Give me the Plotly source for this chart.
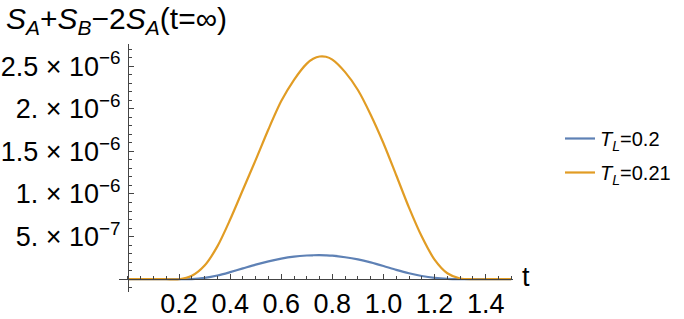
import plotly.graph_objects as go

# data (values in units of 1e-6)
t = [0.00, 0.05, 0.10, 0.15, 0.20, 0.25, 0.30, 0.35, 0.40, 0.45, 0.50,
     0.55, 0.60, 0.65, 0.70, 0.725, 0.75, 0.775, 0.80, 0.85, 0.90, 0.95, 1.00,
     1.05, 1.10, 1.15, 1.20, 1.25, 1.30, 1.35, 1.40, 1.45, 1.50]
s_tl020 = [0, 0, 0, 0, 0, 0.001, 0.015, 0.043, 0.083, 0.127, 0.171,
           0.210, 0.242, 0.265, 0.278, 0.281, 0.282, 0.280, 0.276, 0.258, 0.232, 0.197, 0.155,
           0.110, 0.070, 0.038, 0.016, 0.004, 0, 0, 0, 0, 0]
s_tl021 = [0, 0, 0, 0, 0, 0.04, 0.16, 0.385, 0.70, 1.05, 1.40,
           1.76, 2.09, 2.34, 2.53, 2.586, 2.613, 2.61, 2.577, 2.43, 2.22, 1.93, 1.595,
           1.22, 0.84, 0.50, 0.23, 0.07, 0.008, 0, 0, 0, 0]
series_names = ["<i>T</i><sub><i>L</i></sub>=0.2", "<i>T</i><sub><i>L</i></sub>=0.21"]
x_ticks = [0.2, 0.4, 0.6, 0.8, 1.0, 1.2, 1.4]
x_tick_text = ["0.2", "0.4", "0.6", "0.8", "1.0", "1.2", "1.4"]
y_ticks = [0.5e-6, 1.0e-6, 1.5e-6, 2.0e-6, 2.5e-6]
y_tick_text = ["5. × 10<sup>−7</sup>", "1. × 10<sup>−6</sup>",
               "1.5 × 10<sup>−6</sup>", "2. × 10<sup>−6</sup>",
               "2.5 × 10<sup>−6</sup>"]

W, H = 684, 319
xr = [-0.035, 1.507]
yr = [-0.15e-6, 2.76e-6]
xdom = [119 / W, 513 / W]
ydom = [(H - 292) / H, (H - 44) / H]
xpos_y0 = ydom[0] + (0 - yr[0]) / (yr[1] - yr[0]) * (ydom[1] - ydom[0])
ypos_x0 = xdom[0] + (0 - xr[0]) / (xr[1] - xr[0]) * (xdom[1] - xdom[0])

font = "Liberation Sans, Arial, sans-serif"
blue = "#5E81B5"
orange = "#E19C24"

fig = go.Figure()
for i, (vals, name, col) in enumerate([(s_tl020, series_names[0], blue), (s_tl021, series_names[1], orange)]):
    fig.add_trace(go.Scatter(x=t, y=[v * 1e-6 for v in vals], mode="lines", name=name,
                             legendgroup=f"g{i}",
                             line=dict(color=col, width=2.2, shape="spline", smoothing=0.8)))

axis_col = "#444444"
fig.update_layout(
    width=W, height=H, margin=dict(l=0, r=0, t=0, b=0),
    paper_bgcolor="white", plot_bgcolor="white",
    font=dict(family=font, color="black"),
    showlegend=True,
    legend=dict(x=560 / W, y=(H - 119) / H, xanchor="left", yanchor="top",
                font=dict(size=20, family=font), bgcolor="rgba(0,0,0,0)",
                itemwidth=30, tracegroupgap=5),
    xaxis=dict(domain=xdom, range=xr, anchor="free", position=xpos_y0,
               showgrid=False, zeroline=False, showline=True, linecolor=axis_col, linewidth=1,
               ticks="inside", ticklen=5, tickcolor=axis_col, tickwidth=1,
               tickvals=x_ticks, ticktext=x_tick_text, tickfont=dict(size=27, family=font),
               minor=dict(ticks="inside", dtick=0.05, tick0=0, ticklen=3, tickcolor=axis_col, showgrid=False)),
    yaxis=dict(domain=ydom, range=yr, anchor="free", position=ypos_x0,
               showgrid=False, zeroline=False, showline=True, linecolor=axis_col, linewidth=1,
               ticks="inside", ticklen=5, tickcolor=axis_col, tickwidth=1,
               tickvals=y_ticks, ticktext=y_tick_text, tickfont=dict(size=27, family=font),
               ticklabelstandoff=2,
               minor=dict(ticks="inside", dtick=0.1e-6, tick0=0, ticklen=3, tickcolor=axis_col, showgrid=False)),
)

fig.add_annotation(text="<i>S</i><sub><i>A</i></sub>+<i>S</i><sub><i>B</i></sub>−2<i>S</i><sub><i>A</i></sub>(t=∞)",
                   xref="paper", yref="paper", x=4 / W, y=1 - 0 / H, xanchor="left", yanchor="top",
                   showarrow=False, font=dict(size=30, family=font))
fig.add_annotation(text="t", xref="paper", yref="paper", x=520 / W, y=xpos_y0 + 2 / H,
                   xanchor="left", yanchor="middle", showarrow=False, font=dict(size=27, family=font))

fig.write_html("out.html")
